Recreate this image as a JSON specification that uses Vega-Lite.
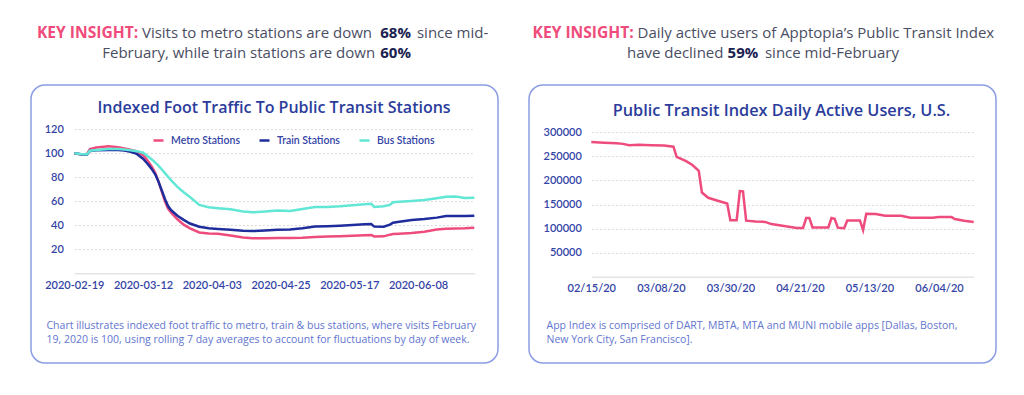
{
  "$schema": "https://vega.github.io/schema/vega-lite/v6.json",
  "background": "white",
  "padding": {"left": 30, "top": 26, "right": 0, "bottom": 0},
  "autosize": {"type": "pad"},
  "spacing": 29,
  "config": {
    "font": "Lato",
    "view": {"stroke": "#8C9DE3", "strokeWidth": 1.5, "cornerRadius": 14, "fill": "white"}
  },
  "hconcat": [
    {
      "title": {"text": ["KEY INSIGHT:", ""], "anchor": "start", "frame": "bounds", "dx": 6.7, "offset": -35.6, "font": "Open Sans", "fontSize": 15.6, "lineHeight": 20, "fontWeight": "bold", "color": "#EF4B7B"},
      "vconcat": [
        {
          "title": {"text": ["68%", "60%"], "anchor": "start", "frame": "bounds", "dx": 350, "offset": -35, "font": "Open Sans", "fontSize": 15, "lineHeight": 20, "fontWeight": "bold", "color": "#1A2250"},
          "vconcat": [
            {
              "title": {"text": ["since mid-", ""], "anchor": "start", "frame": "bounds", "dx": 386.7, "offset": -35, "font": "Open Sans", "fontSize": 15, "lineHeight": 20, "fontWeight": "normal", "color": "#4A4E63"},
              "vconcat": [
                {
                  "title": {"text": ["", "February, while train stations are down"], "anchor": "start", "frame": "bounds", "dx": 72, "offset": -35, "font": "Open Sans", "fontSize": 15, "lineHeight": 20, "fontWeight": "normal", "color": "#4A4E63"},
                  "vconcat": [
                    {
                      "title": {"text": ["Visits to metro stations are down", ""], "anchor": "start", "frame": "bounds", "dx": 111.7, "offset": 23, "font": "Open Sans", "fontSize": 15, "lineHeight": 20, "fontWeight": "normal", "color": "#4A4E63"},
                      "vconcat": [
                        {
                          "width": 467,
                          "height": 278,
                          "title": {"text": "Indexed Foot Traffic To Public Transit Stations", "anchor": "middle", "frame": "group", "dx": 9.5, "offset": -31, "font": "Open Sans", "fontSize": 16, "fontWeight": 600, "color": "#2B3C9C"},
                          "data": {"values": [
                            {"date": "2020/02/19", "metro": 100, "train": 100, "bus": 100},
                            {"date": "2020/02/21", "metro": 99.3, "train": 99.2, "bus": 99.4},
                            {"date": "2020/02/23", "metro": 99, "train": 98.8, "bus": 99},
                            {"date": "2020/02/24", "metro": 103.5, "train": 102, "bus": 102.2},
                            {"date": "2020/02/26", "metro": 104.8, "train": 102.6, "bus": 102.8},
                            {"date": "2020/03/01", "metro": 105.8, "train": 102.8, "bus": 103.6},
                            {"date": "2020/03/04", "metro": 105, "train": 102.7, "bus": 103.5},
                            {"date": "2020/03/06", "metro": 104, "train": 102.3, "bus": 103.2},
                            {"date": "2020/03/08", "metro": 103, "train": 101.3, "bus": 102.6},
                            {"date": "2020/03/10", "metro": 101.5, "train": 99.5, "bus": 101.8},
                            {"date": "2020/03/12", "metro": 98.5, "train": 95.5, "bus": 100.5},
                            {"date": "2020/03/13", "metro": 95.5, "train": 92.5, "bus": 98.5},
                            {"date": "2020/03/14", "metro": 92, "train": 89.5, "bus": 96.5},
                            {"date": "2020/03/15", "metro": 88, "train": 86, "bus": 94.5},
                            {"date": "2020/03/16", "metro": 83, "train": 82, "bus": 92},
                            {"date": "2020/03/17", "metro": 76, "train": 76, "bus": 89.5},
                            {"date": "2020/03/18", "metro": 68, "train": 69, "bus": 86.5},
                            {"date": "2020/03/19", "metro": 60, "train": 62, "bus": 83.5},
                            {"date": "2020/03/20", "metro": 54, "train": 56, "bus": 80.5},
                            {"date": "2020/03/21", "metro": 50.5, "train": 52.5, "bus": 77.5},
                            {"date": "2020/03/23", "metro": 45, "train": 48, "bus": 72},
                            {"date": "2020/03/25", "metro": 40.5, "train": 44.5, "bus": 67.5},
                            {"date": "2020/03/27", "metro": 37.5, "train": 41.5, "bus": 63.5},
                            {"date": "2020/03/30", "metro": 34, "train": 38.8, "bus": 57},
                            {"date": "2020/04/02", "metro": 33.2, "train": 37.5, "bus": 55},
                            {"date": "2020/04/05", "metro": 33, "train": 37, "bus": 54.2},
                            {"date": "2020/04/09", "metro": 31.5, "train": 36.3, "bus": 53.3},
                            {"date": "2020/04/13", "metro": 29.8, "train": 35.5, "bus": 51.5},
                            {"date": "2020/04/16", "metro": 29.2, "train": 35.2, "bus": 50.8},
                            {"date": "2020/04/20", "metro": 29.2, "train": 35.6, "bus": 51.4},
                            {"date": "2020/04/24", "metro": 29.5, "train": 36.2, "bus": 52.3},
                            {"date": "2020/04/28", "metro": 29.5, "train": 36.5, "bus": 52},
                            {"date": "2020/05/02", "metro": 29.7, "train": 37.5, "bus": 53.5},
                            {"date": "2020/05/06", "metro": 30.3, "train": 38.9, "bus": 55.2},
                            {"date": "2020/05/10", "metro": 30.6, "train": 39.3, "bus": 55.3},
                            {"date": "2020/05/14", "metro": 30.9, "train": 39.7, "bus": 55.8},
                            {"date": "2020/05/18", "metro": 31.2, "train": 40.3, "bus": 56.8},
                            {"date": "2020/05/22", "metro": 31.7, "train": 40.8, "bus": 57.6},
                            {"date": "2020/05/24", "metro": 32, "train": 41, "bus": 58},
                            {"date": "2020/05/25", "metro": 30.7, "train": 38.9, "bus": 55.3},
                            {"date": "2020/05/28", "metro": 30.8, "train": 38.8, "bus": 55.8},
                            {"date": "2020/05/30", "metro": 32.2, "train": 40.6, "bus": 57},
                            {"date": "2020/05/31", "metro": 32.7, "train": 42.2, "bus": 59.2},
                            {"date": "2020/06/02", "metro": 33, "train": 43, "bus": 59.6},
                            {"date": "2020/06/06", "metro": 33.6, "train": 44.5, "bus": 60.3},
                            {"date": "2020/06/10", "metro": 34.7, "train": 45.3, "bus": 61},
                            {"date": "2020/06/14", "metro": 36.5, "train": 46.4, "bus": 62.5},
                            {"date": "2020/06/17", "metro": 37.2, "train": 47.7, "bus": 63.8},
                            {"date": "2020/06/20", "metro": 37.3, "train": 47.8, "bus": 64},
                            {"date": "2020/06/23", "metro": 37.5, "train": 47.8, "bus": 62.8},
                            {"date": "2020/06/26", "metro": 38, "train": 48, "bus": 63}
                          ]},
                          "transform": [{"fold": ["metro", "train", "bus"], "as": ["series", "value"]}],
                          "mark": {"type": "line", "strokeWidth": 2.5},
                          "encoding": {
                            "x": {
                              "field": "date", "type": "temporal",
                              "scale": {"domain": [{"year": 2020, "month": 2, "date": 19}, {"year": 2020, "month": 6, "date": 26}], "range": [43.3, 443.3]},
                              "axis": {
                                "values": [{"year": 2020, "month": 2, "date": 19}, {"year": 2020, "month": 3, "date": 12}, {"year": 2020, "month": 4, "date": 3}, {"year": 2020, "month": 4, "date": 25}, {"year": 2020, "month": 5, "date": 17}, {"year": 2020, "month": 6, "date": 8}],
                                "format": "%Y-%m-%d", "offset": -89.7, "tickSize": 0, "labelPadding": 6, "grid": false,
                                "labelFont": "Lato", "labelFontSize": 11, "labelFontWeight": 600, "labelColor": "#3344A6", "labelFlush": false, "labelOverlap": false,
                                "domainColor": "#E3E3E3", "domainWidth": 1.5,
                                "title": ["Chart illustrates indexed foot traffic to metro, train & bus stations, where visits February", "19, 2020 is 100, using rolling 7 day averages to account for fluctuations by day of week."],
                                "titleFont": "Open Sans", "titleFontSize": 10.5, "titleFontWeight": "normal", "titleColor": "#6275CF",
                                "titleAnchor": "start", "titleAlign": "left", "titleBaseline": "top", "titleX": 15, "titleY": 47, "titleLineHeight": 14, "titleLimit": 1000
                              }
                            },
                            "y": {
                              "field": "value", "type": "quantitative",
                              "scale": {"domain": [0, 120], "range": [188.3, 44.3]},
                              "axis": {
                                "values": [20, 40, 60, 80, 100, 120], "offset": -43.3, "tickSize": 0, "labelPadding": 11, "domain": false,
                                "grid": true, "gridDash": [2, 2], "gridColor": "#D9D9D9", "gridWidth": 1,
                                "labelFont": "Lato", "labelFontSize": 11, "labelFontWeight": 600, "labelColor": "#3344A6", "title": null
                              }
                            },
                            "color": {
                              "field": "series", "type": "nominal",
                              "scale": {"domain": ["metro", "train", "bus"], "range": ["#EE4C7C", "#1E2D9B", "#62E6D5"]},
                              "legend": {
                                "orient": "none", "legendX": 121, "legendY": 49, "direction": "horizontal", "title": null, "padding": 0,
                                "symbolType": "stroke", "symbolStrokeWidth": 2.5, "symbolSize": 100, "labelOffset": 6, "columnPadding": 14,
                                "labelFont": "Lato", "labelFontSize": 10.5, "labelFontWeight": 600, "labelColor": "#3344A6",
                                "labelExpr": "{'metro': 'Metro Stations', 'train': 'Train Stations', 'bus': 'Bus Stations'}[datum.label]"
                              }
                            }
                          }
                        }
                      ]
                    }
                  ]
                }
              ]
            }
          ]
        }
      ]
    },
    {
      "title": {"text": ["KEY INSIGHT:", ""], "anchor": "start", "frame": "bounds", "dx": 4.3, "offset": -35.6, "font": "Open Sans", "fontSize": 15.6, "lineHeight": 20, "fontWeight": "bold", "color": "#EF4B7B"},
      "vconcat": [
        {
          "title": {"text": ["", "59%"], "anchor": "start", "frame": "bounds", "dx": 199.3, "offset": -35, "font": "Open Sans", "fontSize": 15, "lineHeight": 20, "fontWeight": "bold", "color": "#1A2250"},
          "vconcat": [
            {
              "title": {"text": ["", "since mid-February"], "anchor": "start", "frame": "bounds", "dx": 236.7, "offset": -35, "font": "Open Sans", "fontSize": 15, "lineHeight": 20, "fontWeight": "normal", "color": "#4A4E63"},
              "vconcat": [
                {
                  "title": {"text": ["", "have declined"], "anchor": "start", "frame": "bounds", "dx": 98.7, "offset": -35, "font": "Open Sans", "fontSize": 15, "lineHeight": 20, "fontWeight": "normal", "color": "#4A4E63"},
                  "vconcat": [
                    {
                      "title": {"text": ["Daily active users of Apptopia\u2019s Public Transit Index", ""], "anchor": "start", "frame": "bounds", "dx": 109.3, "offset": 23, "font": "Open Sans", "fontSize": 15, "lineHeight": 20, "fontWeight": "normal", "color": "#4A4E63"},
                      "vconcat": [
                        {
                          "width": 467,
                          "height": 278,
                          "title": {"text": "Public Transit Index Daily Active Users, U.S.", "anchor": "middle", "frame": "group", "dx": 19, "offset": -34, "font": "Open Sans", "fontSize": 16.3, "fontWeight": 600, "color": "#2B3C9C"},
                          "data": {"values": [
                            {"date": "2020/02/15", "users": 280000},
                            {"date": "2020/02/19", "users": 278500},
                            {"date": "2020/02/23", "users": 277500},
                            {"date": "2020/02/25", "users": 276000},
                            {"date": "2020/02/27", "users": 273000},
                            {"date": "2020/03/01", "users": 274000},
                            {"date": "2020/03/05", "users": 273000},
                            {"date": "2020/03/09", "users": 272500},
                            {"date": "2020/03/12", "users": 270000},
                            {"date": "2020/03/13", "users": 249000},
                            {"date": "2020/03/16", "users": 240000},
                            {"date": "2020/03/18", "users": 232000},
                            {"date": "2020/03/20", "users": 220000},
                            {"date": "2020/03/21", "users": 175000},
                            {"date": "2020/03/23", "users": 164000},
                            {"date": "2020/03/26", "users": 158000},
                            {"date": "2020/03/29", "users": 152000},
                            {"date": "2020/03/30", "users": 117500},
                            {"date": "2020/04/01", "users": 117500},
                            {"date": "2020/04/02", "users": 178000},
                            {"date": "2020/04/03", "users": 177500},
                            {"date": "2020/04/04", "users": 116500},
                            {"date": "2020/04/07", "users": 115000},
                            {"date": "2020/04/10", "users": 114000},
                            {"date": "2020/04/12", "users": 109500},
                            {"date": "2020/04/16", "users": 105500},
                            {"date": "2020/04/20", "users": 101500},
                            {"date": "2020/04/22", "users": 101500},
                            {"date": "2020/04/23", "users": 122000},
                            {"date": "2020/04/24", "users": 122000},
                            {"date": "2020/04/25", "users": 102500},
                            {"date": "2020/04/30", "users": 102500},
                            {"date": "2020/05/01", "users": 122000},
                            {"date": "2020/05/02", "users": 120500},
                            {"date": "2020/05/03", "users": 102000},
                            {"date": "2020/05/05", "users": 101000},
                            {"date": "2020/05/06", "users": 117000},
                            {"date": "2020/05/10", "users": 117000},
                            {"date": "2020/05/11", "users": 97000},
                            {"date": "2020/05/12", "users": 131000},
                            {"date": "2020/05/15", "users": 130500},
                            {"date": "2020/05/18", "users": 127000},
                            {"date": "2020/05/23", "users": 126500},
                            {"date": "2020/05/26", "users": 122700},
                            {"date": "2020/06/02", "users": 122600},
                            {"date": "2020/06/04", "users": 124000},
                            {"date": "2020/06/08", "users": 124000},
                            {"date": "2020/06/09", "users": 120000},
                            {"date": "2020/06/12", "users": 116500},
                            {"date": "2020/06/15", "users": 114000}
                          ]},
                          "mark": {"type": "line", "strokeWidth": 2.5, "color": "#EE4C7C"},
                          "encoding": {
                            "x": {
                              "field": "date", "type": "temporal",
                              "scale": {"domain": [{"year": 2020, "month": 2, "date": 15}, {"year": 2020, "month": 6, "date": 15}], "range": [62.3, 444.7]},
                              "axis": {
                                "values": [{"year": 2020, "month": 2, "date": 15}, {"year": 2020, "month": 3, "date": 8}, {"year": 2020, "month": 3, "date": 30}, {"year": 2020, "month": 4, "date": 21}, {"year": 2020, "month": 5, "date": 13}, {"year": 2020, "month": 6, "date": 4}],
                                "format": "%m/%d/%y", "offset": -86.3, "tickSize": 0, "labelPadding": 6, "grid": false,
                                "labelFont": "Lato", "labelFontSize": 11, "labelFontWeight": 600, "labelColor": "#3344A6", "labelFlush": false, "labelOverlap": false,
                                "domainColor": "#E3E3E3", "domainWidth": 1.5,
                                "title": ["App Index is comprised of DART, MBTA, MTA and MUNI mobile apps [Dallas, Boston,", "New York City, San Francisco]."],
                                "titleFont": "Open Sans", "titleFontSize": 10.5, "titleFontWeight": "normal", "titleColor": "#6275CF",
                                "titleAnchor": "start", "titleAlign": "left", "titleBaseline": "top", "titleX": 17, "titleY": 44, "titleLineHeight": 14, "titleLimit": 1000
                              }
                            },
                            "y": {
                              "field": "users", "type": "quantitative",
                              "scale": {"domain": [0, 300000], "range": [191.8, 47.3]},
                              "axis": {
                                "values": [50000, 100000, 150000, 200000, 250000, 300000], "format": "d", "offset": -62.3, "tickSize": 0, "labelPadding": 10, "domain": false,
                                "grid": true, "gridDash": [2, 2], "gridColor": "#D9D9D9", "gridWidth": 1,
                                "labelFont": "Lato", "labelFontSize": 11, "labelFontWeight": 600, "labelColor": "#3344A6", "title": null
                              }
                            }
                          }
                        }
                      ]
                    }
                  ]
                }
              ]
            }
          ]
        }
      ]
    }
  ]
}
